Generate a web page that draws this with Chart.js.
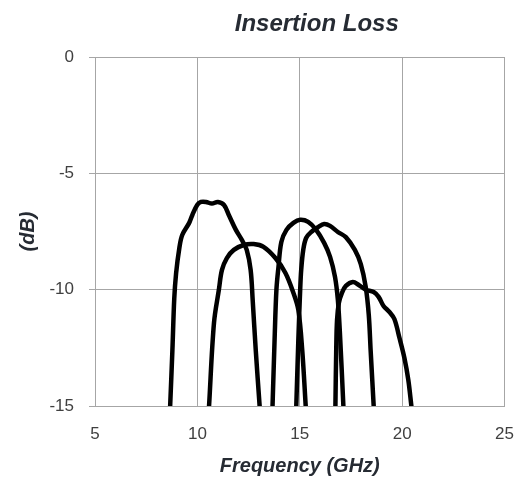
<!DOCTYPE html>
<html>
<head>
<meta charset="utf-8">
<title>Insertion Loss</title>
<script src="https://cdn.jsdelivr.net/npm/chart.js@4.4.1/dist/chart.umd.min.js"></script>
<style>
    html, body { margin: 0; padding: 0; background: #ffffff; }
    #wrap { width: 532px; height: 481px; position: relative; }
</style>
</head>
<body>
<div id="wrap"><canvas id="lossChart"></canvas></div>
<script>
// Insertion loss of five filter channels (GHz, dB)
const freq1 = [8.67, 8.78, 8.87, 8.96, 9.12, 9.26, 9.60, 9.75, 9.99, 10.18, 10.42, 10.71, 11.0, 11.3, 11.54, 11.88, 12.17, 12.41, 12.6, 12.7, 12.85, 13.04];
const loss1 = [-15, -12.6, -10.4, -9.3, -8.2, -7.65, -7.13, -6.8, -6.36, -6.23, -6.23, -6.3, -6.23, -6.36, -6.8, -7.43, -7.86, -8.29, -9.15, -10.44, -12.6, -15];

const freq2 = [10.57, 10.81, 11.05, 11.2, 11.44, 11.78, 12.26, 12.75, 13.23, 13.81, 14.3, 14.69, 14.93, 15.12, 15.29];
const loss2 = [-15, -11.43, -10.0, -9.15, -8.64, -8.29, -8.08, -8.04, -8.16, -8.64, -9.28, -10.14, -10.87, -12.6, -15];

const freq3 = [13.67, 13.77, 13.86, 13.96, 14.1, 14.35, 14.69, 15.02, 15.41, 15.8, 16.19, 16.48, 16.72, 16.86, 16.96, 17.13];
const loss3 = [-15, -12.16, -10.0, -9.02, -7.95, -7.43, -7.13, -7.0, -7.09, -7.43, -7.99, -8.59, -9.45, -10.44, -11.86, -15];

const freq4 = [14.83, 14.93, 15.02, 15.07, 15.17, 15.31, 15.56, 15.9, 16.19, 16.48, 16.86, 17.25, 17.69, 17.98, 18.22, 18.37, 18.46, 18.61];
const loss4 = [-15, -12.16, -10.0, -9.15, -8.29, -7.78, -7.52, -7.31, -7.18, -7.26, -7.52, -7.74, -8.29, -8.9, -9.88, -11.09, -12.6, -15];

const freq5 = [16.74, 16.78, 16.82, 16.91, 17.06, 17.25, 17.59, 17.88, 18.22, 18.61, 18.85, 19.09, 19.38, 19.62, 19.87, 20.11, 20.3, 20.45];
const loss5 = [-15, -12.6, -11.3, -10.57, -10.14, -9.84, -9.67, -9.8, -10.0, -10.1, -10.31, -10.7, -10.96, -11.26, -12.08, -12.94, -13.88, -15];

const xTicks = [5, 10, 15, 20, 25];
const yTicks = [-15, -10, -5, 0];

const chartTitle = 'Insertion Loss';
const gridGrey = '#a6a6a6';
const textDark = '#262b33';

function toPoints(xs, ys) {
    return xs.map((x, i) => ({ x: x, y: ys[i] }));
}

const seriesList = [
    [freq1, loss1],
    [freq2, loss2],
    [freq3, loss3],
    [freq4, loss4],
    [freq5, loss5]
];

// Title sits a little right of the plot centre, as in the original
const titlePlugin = {
    id: 'offsetTitle',
    afterDraw(chart) {
        const { ctx, chartArea } = chart;
        ctx.save();
        ctx.font = 'italic bold 24px "Liberation Sans", Arial, sans-serif';
        ctx.fillStyle = textDark;
        ctx.textAlign = 'center';
        ctx.textBaseline = 'alphabetic';
        ctx.fillText(chartTitle, (chartArea.left + chartArea.right) / 2 + 17, 31);
        ctx.restore();
    }
};

const ctx = document.getElementById('lossChart').getContext('2d');
new Chart(ctx, {
    type: 'scatter',
    data: {
        datasets: seriesList.map(([xs, ys], i) => ({
            label: 'Channel ' + (i + 1),
            data: toPoints(xs, ys),
            showLine: true,
            borderColor: '#000000',
            borderWidth: 4.5,
            borderJoinStyle: 'round',
            borderCapStyle: 'round',
            pointRadius: 0,
            tension: 0.35,
            fill: false
        }))
    },
    options: {
        responsive: true,
        maintainAspectRatio: false,
        animation: false,
        layout: {
            padding: { top: 57, right: 24, bottom: 0, left: 0 }
        },
        plugins: {
            legend: { display: false },
            title: { display: false },
            tooltip: { enabled: false }
        },
        scales: {
            x: {
                type: 'linear',
                min: 5,
                max: 25,
                afterFit(scale) { scale.height = 75; },
                afterBuildTicks(scale) { scale.ticks = xTicks.map(v => ({ value: v })); },
                grid: { color: gridGrey, lineWidth: 1, drawTicks: false },
                border: { color: gridGrey, width: 1 },
                ticks: {
                    padding: 18,
                    color: '#404040',
                    font: { family: '"Liberation Sans", Arial, sans-serif', size: 17 }
                },
                title: {
                    display: true,
                    text: 'Frequency (GHz)',
                    color: textDark,
                    padding: { top: 0, bottom: 3 },
                    font: { family: '"Liberation Sans", Arial, sans-serif', size: 20, style: 'italic', weight: 'bold' }
                }
            },
            y: {
                type: 'linear',
                min: -15,
                max: 0,
                afterFit(scale) { scale.width = 95; },
                afterBuildTicks(scale) { scale.ticks = yTicks.map(v => ({ value: v })); },
                grid: { color: gridGrey, lineWidth: 1, drawTicks: true, tickLength: 6, tickColor: gridGrey },
                border: { color: gridGrey, width: 1 },
                ticks: {
                    padding: 15,
                    color: '#404040',
                    font: { family: '"Liberation Sans", Arial, sans-serif', size: 17 }
                },
                title: {
                    display: true,
                    text: '(dB)',
                    color: textDark,
                    padding: { top: 16, bottom: 0 },
                    font: { family: '"Liberation Sans", Arial, sans-serif', size: 20, style: 'italic', weight: 'bold' }
                }
            }
        }
    },
    plugins: [titlePlugin]
});
</script>
</body>
</html>
